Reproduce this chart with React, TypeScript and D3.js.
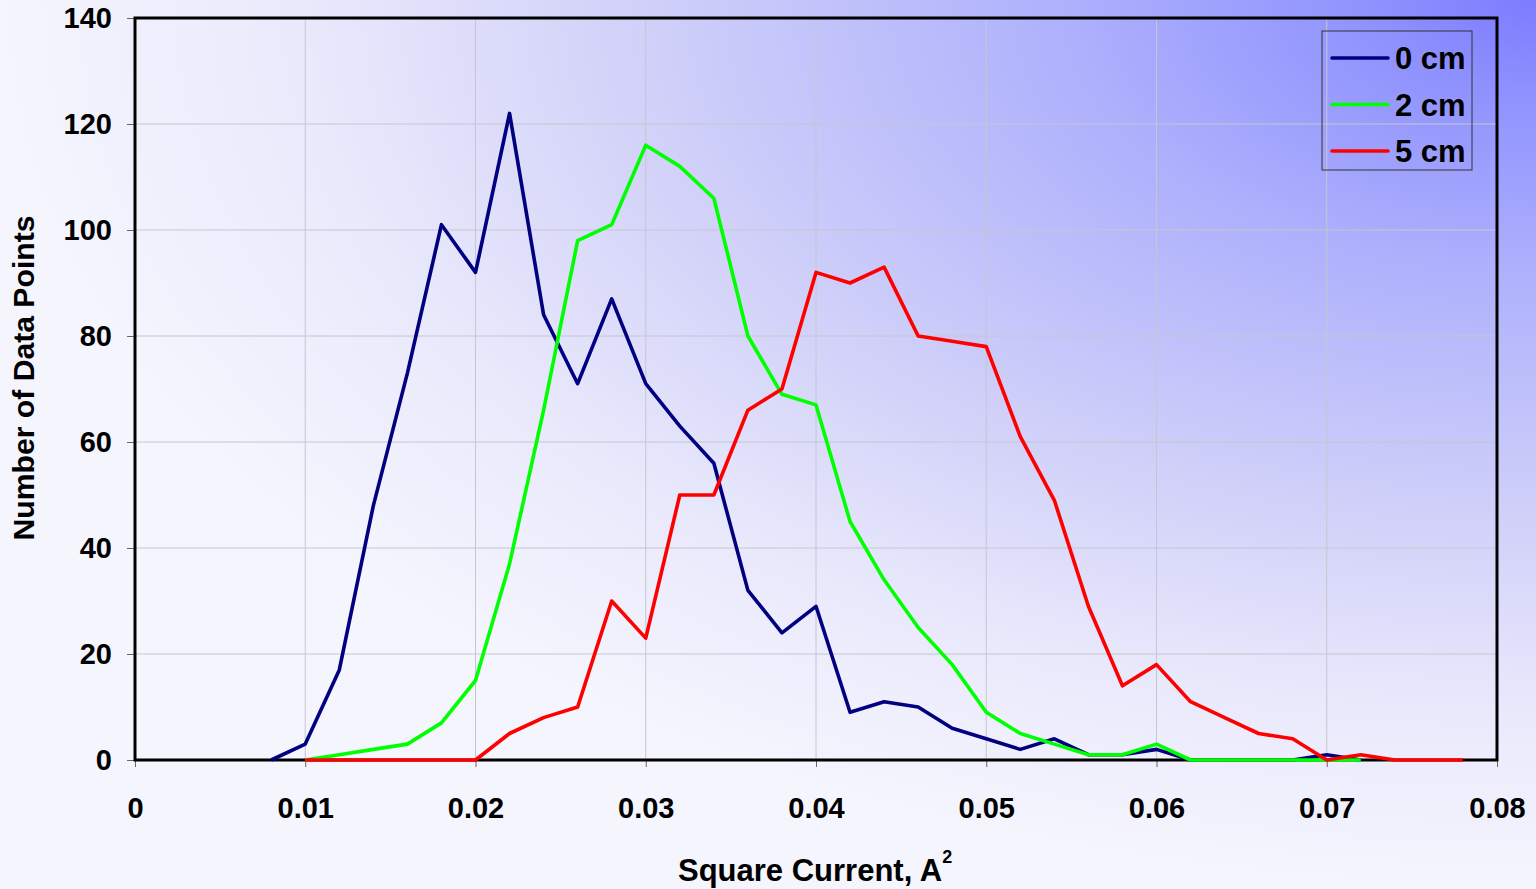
import React, { useEffect, useRef } from "react";
import * as d3 from "d3";

const xValues = [
  0.008, 0.01, 0.012, 0.014, 0.016, 0.018, 0.02, 0.022, 0.024, 0.026, 0.028,
  0.03, 0.032, 0.034, 0.036, 0.038, 0.04, 0.042, 0.044, 0.046, 0.048, 0.05,
  0.052, 0.054, 0.056, 0.058, 0.06, 0.062, 0.064, 0.066, 0.068, 0.07, 0.072,
  0.074, 0.076, 0.078,
];

// starts at 0.008
const cm0 = [
  0, 3, 17, 48, 73, 101, 92, 122, 84, 71, 87, 71, 63, 56, 32, 24, 29, 9, 11,
  10, 6, 4, 2, 4, 1, 1, 2, 0, 0, 0, 0, 1, 0,
];
// starts at 0.010
const cm2 = [
  0, 1, 2, 3, 7, 15, 37, 66, 98, 101, 116, 112, 106, 80, 69, 67, 45, 34, 25,
  18, 9, 5, 3, 1, 1, 3, 0, 0, 0, 0, 0, 0,
];
// starts at 0.010
const cm5 = [
  0, 0, 0, 0, 0, 0, 5, 8, 10, 30, 23, 50, 50, 66, 70, 92, 90, 93, 80, 79, 78,
  61, 49, 29, 14, 18, 11, 8, 5, 4, 0, 1, 0, 0, 0,
];

const seriesNames = ["0 cm", "2 cm", "5 cm"];
const seriesColors = ["#000080", "#00ff00", "#ff0000"];
const seriesStart = [0, 1, 1];
const seriesData = [cm0, cm2, cm5];

const xTicks = [0, 0.01, 0.02, 0.03, 0.04, 0.05, 0.06, 0.07, 0.08];
const yTicks = [0, 20, 40, 60, 80, 100, 120, 140];

const App = () => {
  const ref = useRef<SVGSVGElement>(null);

  useEffect(() => {
    const width = 1536;
    const height = 889;
    const left = 135;
    const right = 1497;
    const top = 18;
    const bottom = 760;
    const font = "'Liberation Sans', Arial, sans-serif";

    const svg = d3.select(ref.current);
    svg.selectAll("*").remove();

    const x = d3.scaleLinear().domain([0, 0.08]).range([left, right]);
    const y = d3.scaleLinear().domain([0, 140]).range([bottom, top]);

    // background gradient, bluest at the top right corner
    const defs = svg.append("defs");
    const grad = defs
      .append("radialGradient")
      .attr("id", "bg")
      .attr("cx", 1)
      .attr("cy", 0)
      .attr("r", 1)
      .attr("fx", 1)
      .attr("fy", 0);
    const stops: [string, string][] = [
      ["0%", "#7c7cff"],
      ["12%", "#9194fd"],
      ["30%", "#adb0fc"],
      ["58%", "#d0d0f9"],
      ["80%", "#e9e9fc"],
      ["100%", "#f5f5fe"],
    ];
    stops.forEach(([o, c]) =>
      grad.append("stop").attr("offset", o).attr("stop-color", c)
    );

    svg
      .append("rect")
      .attr("width", width)
      .attr("height", height)
      .attr("fill", "url(#bg)");

    // grid
    const g = svg.append("g");
    g.selectAll(".vg")
      .data(xTicks.slice(1, -1))
      .join("line")
      .attr("x1", (d) => x(d))
      .attr("x2", (d) => x(d))
      .attr("y1", top)
      .attr("y2", bottom)
      .attr("stroke", "#c6c6ce")
      .attr("stroke-width", 1);
    g.selectAll(".hg")
      .data(yTicks.slice(1, -1))
      .join("line")
      .attr("x1", left)
      .attr("x2", right)
      .attr("y1", (d) => y(d))
      .attr("y2", (d) => y(d))
      .attr("stroke", "#c6c6ce")
      .attr("stroke-width", 1);

    // axes
    const xAxis = svg
      .append("g")
      .attr("transform", `translate(0,${bottom})`)
      .call(
        d3
          .axisBottom(x)
          .tickValues(xTicks)
          .tickSize(7)
          .tickFormat((d) => (d === 0 ? "0" : d3.format(".2f")(d as number)))
      );
    xAxis.select(".domain").remove();
    xAxis.selectAll(".tick line").attr("stroke", "#666");
    xAxis
      .selectAll(".tick text")
      .attr("y", 48)
      .attr("dy", "0.35em")
      .attr("fill", "#000")
      .style("font", `bold 29px ${font}`);

    const yAxis = svg
      .append("g")
      .attr("transform", `translate(${left},0)`)
      .call(d3.axisLeft(y).tickValues(yTicks).tickSize(8));
    yAxis.select(".domain").remove();
    yAxis.selectAll(".tick line").attr("stroke", "#666");
    yAxis
      .selectAll(".tick text")
      .attr("x", -23)
      .attr("fill", "#000")
      .style("font", `bold 29px ${font}`);

    // frame
    svg
      .append("rect")
      .attr("x", left)
      .attr("y", top)
      .attr("width", right - left)
      .attr("height", bottom - top)
      .attr("fill", "none")
      .attr("stroke", "#000")
      .attr("stroke-width", 3);

    // lines
    const line = d3
      .line<[number, number]>()
      .x((d) => x(d[0]))
      .y((d) => y(d[1]));

    seriesData.forEach((vals, i) => {
      const pts: [number, number][] = vals.map((v, j) => [
        xValues[j + seriesStart[i]],
        v,
      ]);
      svg
        .append("path")
        .datum(pts)
        .attr("d", line)
        .attr("fill", "none")
        .attr("stroke", seriesColors[i])
        .attr("stroke-width", 3.6)
        .attr("stroke-linejoin", "round");
    });

    // axis titles
    svg
      .append("text")
      .attr("transform", `translate(34,378) rotate(-90)`)
      .attr("text-anchor", "middle")
      .style("font", `bold 29px ${font}`)
      .attr("textLength", 325)
      .attr("lengthAdjust", "spacingAndGlyphs")
      .text("Number of Data Points");

    const xt = svg
      .append("text")
      .attr("x", 678)
      .attr("y", 881)
      .style("font", `bold 31px ${font}`);
    xt.append("tspan").text("Square Current, A");
    xt.append("tspan")
      .attr("dy", -18)
      .style("font-size", "18px")
      .text("2");

    // legend
    const lg = svg.append("g").attr("transform", "translate(1322,31)");
    lg.append("rect")
      .attr("width", 150)
      .attr("height", 139)
      .attr("fill", "none")
      .attr("stroke", "#333")
      .attr("stroke-width", 1);
    seriesNames.forEach((name, i) => {
      const yy = 27 + i * 46.5;
      lg.append("line")
        .attr("x1", 10)
        .attr("x2", 66)
        .attr("y1", yy)
        .attr("y2", yy)
        .attr("stroke", seriesColors[i])
        .attr("stroke-width", 3.6)
        .attr("stroke-linecap", "round");
      lg.append("text")
        .attr("x", 73)
        .attr("y", yy)
        .attr("dy", "0.36em")
        .style("font", `bold 31px ${font}`)
        .text(name);
    });
  }, []);

  return (
    <svg
      ref={ref}
      width={1536}
      height={889}
      style={{ position: "absolute", left: 0, top: 0 }}
    ></svg>
  );
};

export default App;
